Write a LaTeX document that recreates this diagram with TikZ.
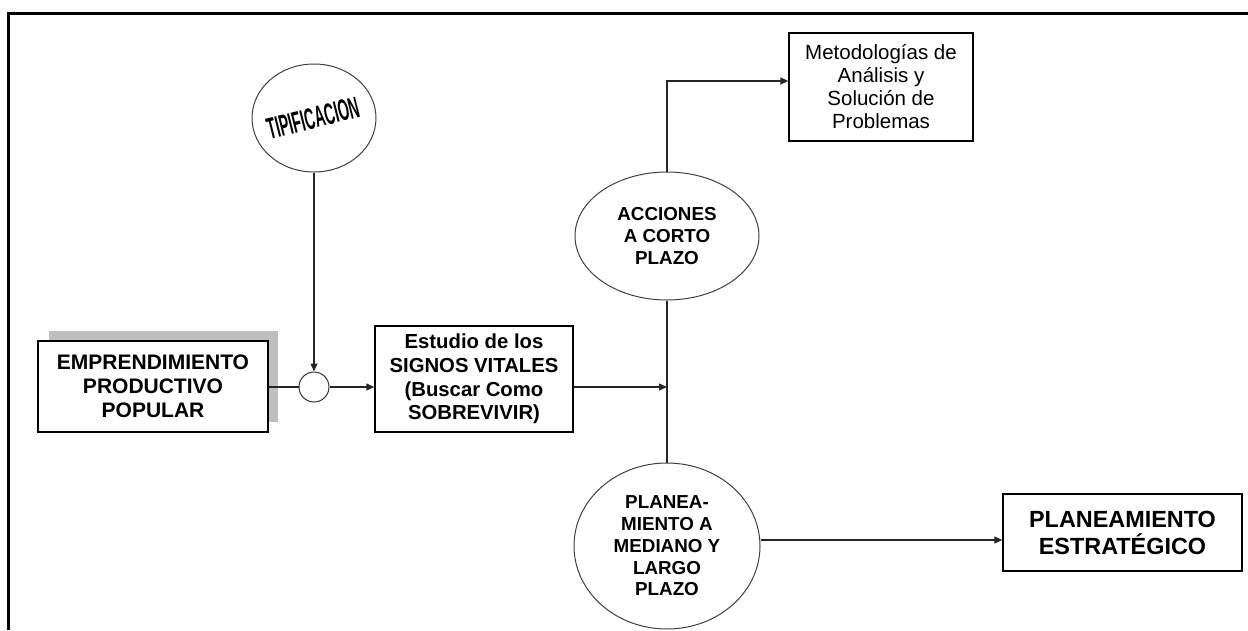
\documentclass[tikz,border=0pt]{standalone}
\usepackage{fontspec}
\setmainfont{Liberation Sans}
\usepackage{graphicx}
\usetikzlibrary{shapes.geometric,arrows.meta,calc}
\tikzset{
  conn/.style={line width=1.3pt, draw=black!85},
  arr/.style={conn, -{Triangle[length=8pt,width=7pt]}},
  boxnode/.style={draw=black, line width=1.3pt, fill=white, rectangle, align=center, inner sep=2pt},
  ellnode/.style={draw=black!75, line width=1pt, fill=white, ellipse, align=center, inner sep=0pt},
  bigbold/.style={font=\fontsize{21}{24}\selectfont\bfseries},
  midbold/.style={font=\fontsize{18.8}{21.8}\selectfont\bfseries},
}
\begin{document}
\begin{tikzpicture}[x=1pt,y=-1pt]
\useasboundingbox (0,0) rectangle (1248,630);
% frame
\draw[line width=3pt, black] (8,630) -- (8,13) -- (1248,13);

% shadow of first box
\fill[black!25] (49,331) rectangle (278,422);

\node[boxnode, bigbold, minimum width=230pt, minimum height=91pt] (emp) at (153,386.5)
  {EMPRENDIMIENTO\\PRODUCTIVO\\POPULAR};

\node[ellnode, minimum width=124pt, minimum height=108pt] (tip) at (314,118) {};
\node (tiptext) at (313,118) {\rotatebox{14}{\scalebox{0.47}[1]{\fontsize{30}{30}\selectfont\bfseries TIPIFICACION}}};

\node[draw=black!80, line width=1pt, circle, minimum size=30pt, inner sep=0pt, fill=white] (junc) at (314,387) {};

\node[boxnode, font=\fontsize{20.3}{23.7}\selectfont\bfseries, minimum width=198pt, minimum height=106pt] (est) at (474,379)
  {Estudio de los\\SIGNOS VITALES\\(Buscar Como\\SOBREVIVIR)};

\coordinate (v) at (667,387);

\node[ellnode, midbold, minimum width=184pt, minimum height=128pt] (acc) at (667,236)
  {ACCIONES\\A CORTO\\PLAZO};

\node[ellnode, midbold, minimum width=186pt, minimum height=166pt] (plan) at (667,546)
  {PLANEA-\\MIENTO A\\MEDIANO Y\\LARGO\\PLAZO};

\node[boxnode, font=\fontsize{20.5}{23}\selectfont, minimum width=184pt, minimum height=108pt] (met) at (881,87)
  {Metodologías de\\Análisis y\\Solución de\\Problemas};

\node[boxnode, font=\fontsize{23.4}{27}\selectfont\bfseries, minimum width=239pt, minimum height=77pt] (pe) at (1122.5,532.5)
  {PLANEAMIENTO\\ESTRATÉGICO};

\coordinate (metin) at ([yshift=6pt]met.west);
\coordinate (pein) at ([yshift=-7.5pt]pe.west);

% connectors
\draw[arr] (tip.south) -- (junc.north);
\draw[conn] (emp.east |- junc.west) -- (junc.west);
\draw[arr] (junc.east) -- (junc.east -| est.west);
\draw[arr] (est.east |- v) -- (v);
\draw[conn] (acc.south) -- (plan.north);
\draw[arr] (acc.north) |- (metin);
\draw[arr] (plan.east |- pein) -- (pein);
\end{tikzpicture}
\end{document}
